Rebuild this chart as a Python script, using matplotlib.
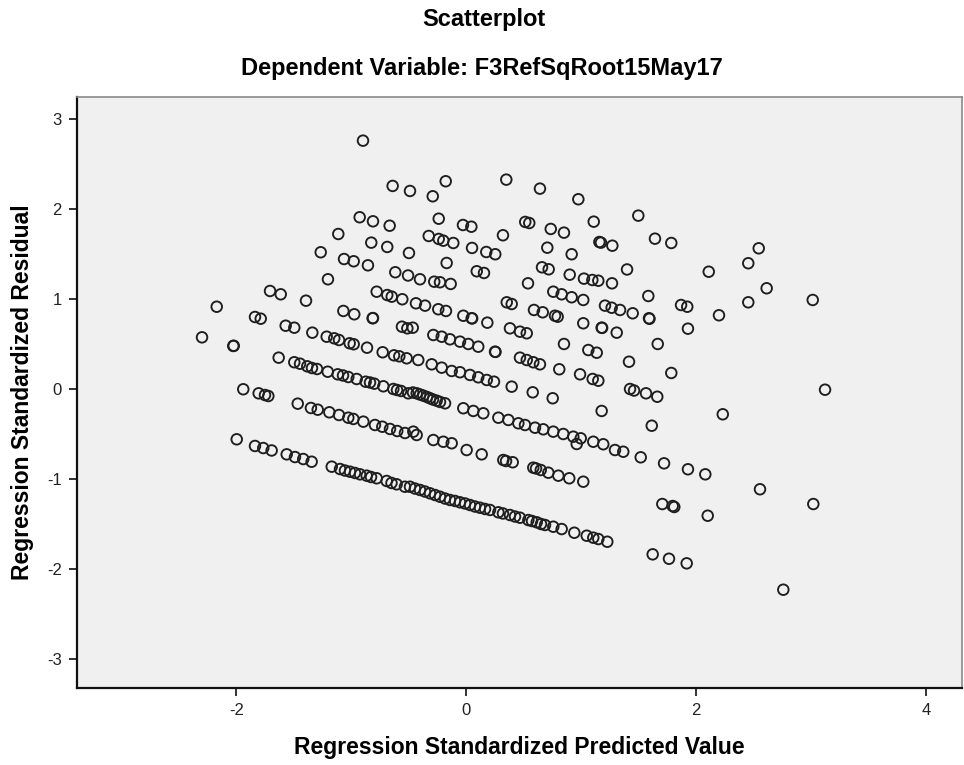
import matplotlib
matplotlib.use("Agg")
import matplotlib.pyplot as plt

# Regression standardized predicted values (x) and standardized residuals (y)
pred = [
    -0.899, -0.641, -0.490, -0.179, 0.348, 0.641, 0.975, -0.292, -0.928, -0.812,
    -0.667, -1.114, -0.827, -0.688, -0.499, -1.267, -1.064, -0.980, -0.856, -0.618,
    -0.507, -1.204, -0.240, -0.029, 0.044, -0.327, -0.240, -0.200, -0.113, 0.513,
    0.548, 0.735, 0.850, 1.109, 1.158, 1.172, 1.271, 0.319, 0.050, 0.174,
    0.252, 0.705, 0.917, -0.171, 0.091, 0.154, 0.659, 0.717, 0.900, 1.024,
    1.097, 1.149, 1.268, 1.399, -0.403, -0.279, -0.229, -0.136, 0.537, 1.497,
    1.642, 1.784, 2.110, 2.454, 2.545, 2.614,
    -1.708, -1.615, -2.172, -1.395, -1.839, -1.789, -1.572, -1.497, -2.300, -2.028,
    -2.024, -1.340, -1.215, -1.149, -1.108, -1.015, -0.980, -0.864, -0.728, -0.629,
    -0.583, -0.519, -1.070, -0.975, -0.815, -0.812, -0.780, -0.688, -0.649, -0.557,
    -0.560, -0.513, -1.633,
    -1.497, -1.447, -1.384, -1.299, -1.206, -1.119, -1.027, -0.954, -0.876, -0.801,
    -0.722, -0.635, -0.568, -0.505, -1.343, -1.073, -0.838, -0.603,
    -1.941, -1.807, -1.752, -1.723, -1.467, -1.352, -1.293, -1.192, -1.108, -1.027,
    -0.983, -0.896, -0.795, -0.731, -0.664, -0.601, -0.534,
    -1.998, -1.839, -1.767, -1.694, -1.563, -1.491, -1.419, -1.346, -1.171, -1.099,
    -1.012, -0.925, -0.867, -0.780, -0.693, -0.606, -0.534, -1.056, -0.969, -0.829,
    -0.651,
    0.757, 0.830, 0.917, 1.018, -0.438, -0.359, -0.244, -0.177, 0.352, 0.395,
    0.589, 0.665, 0.772, 0.795, 1.207, 1.265, 1.338, -0.026, 0.047, 0.051,
    0.183, 1.018, 1.178, 1.182, 1.309, -0.466, -0.287, -0.214, -0.142, -0.055,
    0.017, 0.104, 0.380, 0.467, 0.526, 0.850, 1.062, 1.135, 0.250, 0.254,
    -0.418, -0.301, -0.214, -0.127, -0.055, 0.032, 0.104, 0.178, 0.241, 0.467,
    0.526, 0.583, 0.641, 1.416, 0.809, 0.990, 1.100, 1.149, 0.395, 0.578,
    0.752, 1.425, 1.460,
    -0.432, -0.374, -0.316, -0.258, -0.185, -0.464, -0.403, -0.342, -0.290, -0.229,
    -0.026, 0.061, 0.148, 0.279, 0.366, 0.453, 0.511, 0.598, 0.670, 0.757,
    0.844, 0.931, 0.996, 1.178, -0.461, -0.432, -0.287, -0.200, -0.127, 1.105,
    1.192,
    1.584, 1.869, 1.923, 2.454, 3.015, 1.448, 1.590, 1.594, 2.199, 1.929,
    1.666, 1.784, 1.564, 1.662, 3.122, 2.232, 1.614,
    0.003, 0.134, 0.322, 0.346, 0.404, 0.583, 0.607, 0.648, 0.714, 0.801,
    0.896, 1.018, 1.294, 1.366, 0.961,
    -0.490, -0.403, -0.316, -0.229, -0.142, -0.055, 0.032, 0.119, 0.206, 0.279,
    0.380, 0.467, 0.540, 0.613, 0.685, 0.757, 0.830, 0.940, 1.048, 1.105,
    1.149, 1.227, -0.447, -0.360, -0.272, -0.185, -0.098, -0.011, 0.076, 0.163,
    0.319, 0.424, 0.572, 0.650,
    1.518, 1.721, 1.929, 2.080, 2.556, 3.020, 1.706, 1.796, 1.810, 2.101,
    1.622, 1.764, 1.918, 2.759,
]

resid = [
    2.759, 2.256, 2.200, 2.308, 2.326, 2.226, 2.108, 2.141, 1.908, 1.863,
    1.814, 1.722, 1.626, 1.578, 1.511, 1.519, 1.444, 1.419, 1.374, 1.297,
    1.261, 1.219, 1.892, 1.822, 1.803, 1.700, 1.667, 1.648, 1.622, 1.856,
    1.844, 1.778, 1.737, 1.859, 1.633, 1.626, 1.592, 1.708, 1.567, 1.522,
    1.497, 1.570, 1.497, 1.400, 1.308, 1.289, 1.352, 1.330, 1.270, 1.226,
    1.211, 1.203, 1.174, 1.328, 1.219, 1.192, 1.186, 1.167, 1.174, 1.926,
    1.670, 1.622, 1.303, 1.397, 1.563, 1.119,
    1.089, 1.052, 0.914, 0.981, 0.800, 0.781, 0.703, 0.681, 0.574, 0.478,
    0.480, 0.626, 0.581, 0.563, 0.544, 0.508, 0.497, 0.459, 0.408, 0.374,
    0.363, 0.341, 0.867, 0.830, 0.786, 0.788, 1.081, 1.044, 1.026, 0.997,
    0.692, 0.674, 0.348,
    0.297, 0.281, 0.252, 0.222, 0.192, 0.163, 0.133, 0.111, 0.081, 0.059,
    0.030, 0.000, -0.022, -0.048, 0.233, 0.150, 0.072, -0.011,
    -0.003, -0.048, -0.067, -0.078, -0.163, -0.211, -0.230, -0.259, -0.289, -0.319,
    -0.333, -0.363, -0.400, -0.419, -0.444, -0.467, -0.489,
    -0.559, -0.633, -0.656, -0.683, -0.726, -0.756, -0.778, -0.808, -0.863, -0.889,
    -0.919, -0.948, -0.963, -0.992, -1.022, -1.059, -1.086, -0.906, -0.933, -0.978,
    -1.044,
    1.081, 1.052, 1.019, 0.989, 0.952, 0.926, 0.886, 0.867, 0.963, 0.944,
    0.878, 0.852, 0.814, 0.803, 0.926, 0.903, 0.878, 0.814, 0.786, 0.784,
    0.737, 0.730, 0.681, 0.679, 0.626, 0.681, 0.600, 0.581, 0.552, 0.526,
    0.500, 0.470, 0.674, 0.637, 0.619, 0.500, 0.433, 0.403, 0.414, 0.412,
    0.322, 0.274, 0.237, 0.200, 0.186, 0.156, 0.130, 0.100, 0.081, 0.348,
    0.322, 0.297, 0.274, 0.303, 0.219, 0.163, 0.111, 0.092, 0.026, -0.037,
    -0.103, 0.000, -0.017,
    -0.048, -0.074, -0.103, -0.130, -0.159, -0.039, -0.061, -0.089, -0.117, -0.144,
    -0.214, -0.244, -0.270, -0.319, -0.344, -0.381, -0.400, -0.430, -0.448, -0.474,
    -0.500, -0.530, -0.548, -0.244, -0.474, -0.511, -0.567, -0.586, -0.603, -0.586,
    -0.614,
    1.033, 0.933, 0.914, 0.963, 0.989, 0.841, 0.786, 0.780, 0.819, 0.670,
    0.500, 0.178, -0.048, -0.086, -0.008, -0.281, -0.408,
    -0.678, -0.726, -0.789, -0.800, -0.814, -0.874, -0.883, -0.900, -0.930, -0.963,
    -0.992, -1.030, -0.678, -0.697, -0.611,
    -1.086, -1.122, -1.159, -1.197, -1.233, -1.259, -1.289, -1.319, -1.344, -1.370,
    -1.400, -1.430, -1.456, -1.481, -1.511, -1.530, -1.556, -1.597, -1.630, -1.652,
    -1.667, -1.697, -1.106, -1.139, -1.178, -1.217, -1.244, -1.272, -1.306, -1.333,
    -1.383, -1.417, -1.467, -1.500,
    -0.759, -0.826, -0.892, -0.948, -1.114, -1.278, -1.278, -1.300, -1.311, -1.408,
    -1.837, -1.886, -1.937, -2.230,
]

x_ticks = [-2, 0, 2, 4]
y_ticks = [-3, -2, -1, 0, 1, 2, 3]
title = "Scatterplot"
subtitle = "Dependent Variable: F3RefSqRoot15May17"
x_label = "Regression Standardized Predicted Value"
y_label = "Regression Standardized Residual"

plt.rcParams["font.family"] = ["Liberation Sans", "DejaVu Sans"]

fig = plt.figure(figsize=(9.64, 7.65), dpi=100)
fig.patch.set_facecolor("white")
ax = fig.add_axes([77 / 964, 77 / 765, 885 / 964, 591 / 765])
ax.set_facecolor("#f0f0f0")

ax.scatter(pred, resid, s=58, facecolors="none", edgecolors="#1e1e1e",
           linewidths=1.35, zorder=3)

ax.set_xlim(-3.388, 4.314)
ax.set_ylim(-3.322, 3.244)
ax.set_xticks(x_ticks)
ax.set_yticks(y_ticks)
ax.set_xticklabels([str(v) for v in x_ticks])
ax.set_yticklabels([str(v) for v in y_ticks])
ax.tick_params(axis="both", direction="out", length=6, width=1.3,
               labelsize=12, colors="#222222", pad=5)

for side in ("left", "bottom"):
    ax.spines[side].set_color("#111111")
    ax.spines[side].set_linewidth(1.6)
for side in ("top", "right"):
    ax.spines[side].set_color("#8a8a8a")
    ax.spines[side].set_linewidth(1.2)

ax.set_xlabel(x_label, fontsize=16.5, fontweight="bold", labelpad=13)
ax.set_ylabel(y_label, fontsize=16.5, fontweight="bold", labelpad=9)

fig.text(0.502, 0.974, title, ha="center", va="center", fontsize=17,
         fontweight="bold")
fig.text(0.500, 0.911, subtitle, ha="center", va="center", fontsize=17,
         fontweight="bold")

fig.savefig("out.png", dpi=100)
